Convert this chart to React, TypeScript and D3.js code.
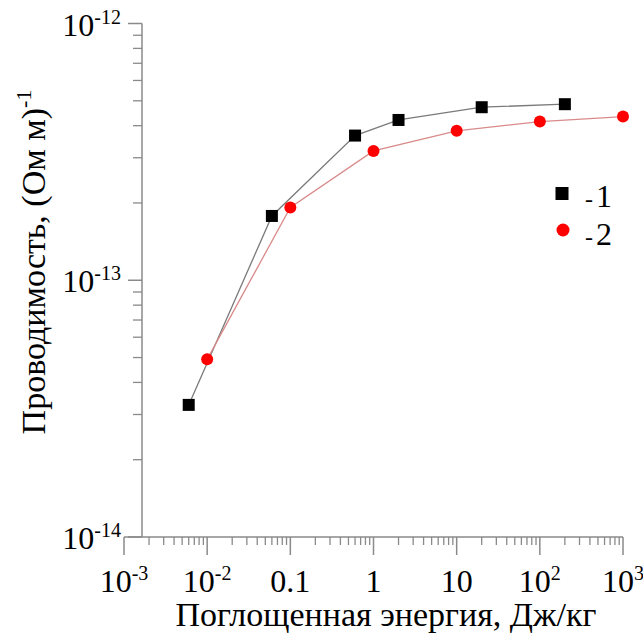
import React from "react";
import * as d3 from "d3";

const series1X = [0.006, 0.06, 0.6, 2, 20, 200];
const series1Y = [3.27e-14, 1.78e-13, 3.66e-13, 4.21e-13, 4.72e-13, 4.85e-13];
const series2X = [0.01, 0.1, 1, 10, 100, 1000];
const series2Y = [4.92e-14, 1.92e-13, 3.19e-13, 3.82e-13, 4.15e-13, 4.34e-13];

const xTickValues = [1e-3, 1e-2, 1e-1, 1, 10, 100, 1000];
const xTickMain = ["10", "10", "0.1", "1", "10", "10", "10"];
const xTickSup = ["-3", "-2", "", "", "", "2", "3"];
const yTickValues = [1e-12, 1e-13, 1e-14];
const yTickSup = ["-12", "-13", "-14"];
const legendLabels = ["-1", "-2"];

const xTitle = "Поглощенная энергия, Дж/кг";
const yTitle = "Проводимость, (Ом м)";
const yTitleSup = "-1";

const FONT = "'Times New Roman', Times, 'Liberation Serif', 'DejaVu Serif', 'Noto Serif', serif";
const AXIS = "#8a8a8a";

export default function App() {
  const x = d3.scaleLog().domain([1e-3, 1e3]).range([124, 623]);
  const y = d3.scaleLog().domain([1e-14, 1e-12]).range([537, 23.5]);
  const yAxisX = 142;
  const xAxisY = 537;

  const xMinor: number[] = [];
  for (let e = -3; e < 3; e++) for (let m = 2; m <= 9; m++) xMinor.push(m * Math.pow(10, e));
  const yMinor: number[] = [];
  for (let e = -14; e < -12; e++) for (let m = 2; m <= 9; m++) yMinor.push(m * Math.pow(10, e));

  const line = d3.line<[number, number]>().x((d) => x(d[0])).y((d) => y(d[1]));
  const d1 = series1X.map((v, i) => [v, series1Y[i]] as [number, number]);
  const d2 = series2X.map((v, i) => [v, series2Y[i]] as [number, number]);

  return (
    <svg width={643} height={635} style={{ position: "absolute", left: 0, top: 0, background: "#fff" }} fontFamily={FONT}>
      <rect x={0} y={0} width={643} height={635} fill="#fff" />
      <line x1={yAxisX} x2={yAxisX} y1={y(1e-12)} y2={xAxisY} stroke={AXIS} strokeWidth={1.5} />
      <line x1={x(1e-3)} x2={x(1e3)} y1={xAxisY} y2={xAxisY} stroke={AXIS} strokeWidth={1.5} />
      {yTickValues.map((v) => (
        <line key={"ym" + v} x1={yAxisX - 14} x2={yAxisX} y1={y(v)} y2={y(v)} stroke={AXIS} strokeWidth={1.5} />
      ))}
      {yMinor.map((v) => (
        <line key={"yn" + v} x1={yAxisX - 9} x2={yAxisX} y1={y(v)} y2={y(v)} stroke={AXIS} strokeWidth={1.3} />
      ))}
      {xTickValues.map((v) => (
        <line key={"xm" + v} x1={x(v)} x2={x(v)} y1={xAxisY} y2={xAxisY + 18} stroke={AXIS} strokeWidth={1.5} />
      ))}
      {xMinor.map((v) => (
        <line key={"xn" + v} x1={x(v)} x2={x(v)} y1={xAxisY} y2={xAxisY + 8} stroke={AXIS} strokeWidth={1.3} />
      ))}
      {yTickValues.map((v, i) => (
        <text key={"yl" + v} x={121} y={y(v) + 12} textAnchor="end" fontSize={32} fill="#000">
          <tspan>10</tspan>
          <tspan fontSize={20} dy={-12}>{yTickSup[i]}</tspan>
        </text>
      ))}
      {xTickValues.map((v, i) => (
        <text key={"xl" + v} x={x(v)} y={592} textAnchor="middle" fontSize={32} fill="#000">
          <tspan>{xTickMain[i]}</tspan>
          {xTickSup[i] ? <tspan fontSize={20} dy={-12}>{xTickSup[i]}</tspan> : null}
        </text>
      ))}
      <text x={386} y={626} textAnchor="middle" fontSize={34} fill="#000">{xTitle}</text>
      <text transform="translate(45,262) rotate(-90)" textAnchor="middle" fontSize={34} fill="#000">
        <tspan>{yTitle}</tspan>
        <tspan fontSize={22} dy={-14}>{yTitleSup}</tspan>
      </text>
      <path d={line(d1) || ""} fill="none" stroke="#7a7a7a" strokeWidth={1.3} />
      <path d={line(d2) || ""} fill="none" stroke="#d98a8a" strokeWidth={1.3} />
      {d1.map((d, i) => (
        <rect key={"s1" + i} x={x(d[0]) - 6} y={y(d[1]) - 6} width={12} height={12} fill="#000" />
      ))}
      {d2.map((d, i) => (
        <circle key={"s2" + i} cx={x(d[0])} cy={y(d[1])} r={6} fill="#ff0000" />
      ))}
      <rect x={555.5} y={187} width={13} height={13} fill="#000" />
      <circle cx={563} cy={230} r={6.5} fill="#ff0000" />
      <text x={585} y={207} fontSize={32} fill="#000">
        <tspan fontSize={24}>-</tspan><tspan dx={3}>{legendLabels[0].slice(1)}</tspan>
      </text>
      <text x={585} y={245} fontSize={32} fill="#000">
        <tspan fontSize={24}>-</tspan><tspan dx={3}>{legendLabels[1].slice(1)}</tspan>
      </text>
    </svg>
  );
}
